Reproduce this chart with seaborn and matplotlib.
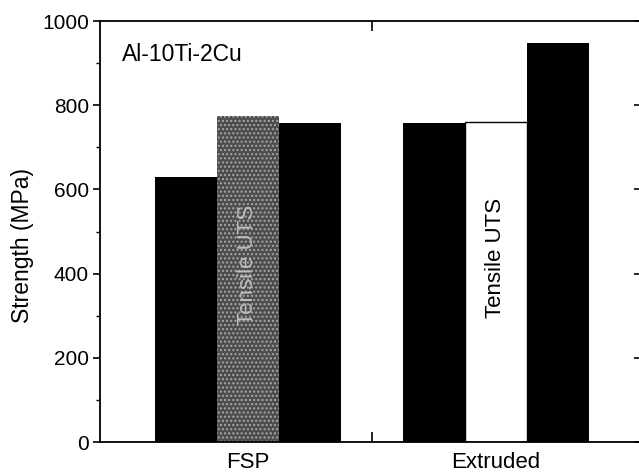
import pandas as pd
import numpy as np
import matplotlib
matplotlib.use("Agg")
import matplotlib.pyplot as plt
import seaborn as sns

# data
processes = ["FSP", "Extruded"]
tests = ["Tensile YS", "Tensile UTS", "Compressive YS"]
fsp_vals = [630, 775, 757]
ext_vals = [757, 760, 947]

df = pd.DataFrame({
    "process": np.repeat(processes, len(tests)),
    "test": tests * len(processes),
    "strength": fsp_vals + ext_vals,
})

sns.set_style("ticks")
plt.rcParams["font.family"] = ["Liberation Sans", "DejaVu Sans"]
plt.rcParams["text.color"] = "black"
plt.rcParams["axes.labelcolor"] = "black"
plt.rcParams["xtick.color"] = "black"
plt.rcParams["ytick.color"] = "black"
plt.rcParams["axes.edgecolor"] = "black"

fig = plt.figure(figsize=(6.39, 4.73), dpi=100)
ax = fig.add_axes([0.1565, 0.0655, 0.8465, 0.89])

sns.barplot(data=df, x="process", y="strength", hue="test", order=processes,
            hue_order=tests, palette=["black"] * 3, width=0.75, dodge=True,
            saturation=1, linewidth=0, legend=False, ax=ax)

# middle bars: grey stippled for FSP, white for Extruded
uts = ax.containers[1]
uts[0].set_facecolor("#4d4d4d")
uts[0].set_edgecolor("#a8a8a8")
uts[0].set_hatch("....")
uts[0].set_linewidth(0)
uts[1].set_facecolor("white")
uts[1].set_edgecolor("black")
uts[1].set_linewidth(1.0)

ax.set_xlim(-0.597, 1.585)
ax.set_ylim(0, 1000)
ax.set_yticks(np.arange(0, 1001, 200))
ax.set_yticks(np.arange(100, 1000, 200), minor=True)
ax.set_xticks([0, 1])
ax.set_xticklabels(processes)
ax.set_xticks([0.5], minor=True)

for s in ax.spines.values():
    s.set_visible(True)
    s.set_linewidth(1.3)

ax.tick_params(axis="y", which="major", direction="out", length=5, width=1.2,
               labelsize=15, pad=3)
ax.tick_params(axis="y", which="minor", direction="out", length=3, width=1.0)
ax.tick_params(axis="x", which="major", length=0, labelsize=16, pad=7)
ax.tick_params(axis="x", which="minor", direction="in", length=7, width=1.2,
               top=True, bottom=True)

sec = ax.secondary_yaxis("right")
sec.set_yticks(np.arange(0, 1001, 200))
sec.tick_params(direction="in", length=5, width=1.2, labelright=False)

ax.set_xlabel("")
ax.set_ylabel("Strength (MPa)", fontsize=16.5)
ax.yaxis.label.set_va("center")
ax.yaxis.set_label_coords(-0.144, 0.466)

ax.text(-0.51, 920, "Al-10Ti-2Cu", fontsize=16.5, va="center", ha="left")
ax.text(0, 420, "Tensile UTS", rotation=90, fontsize=16, color="#bdbdbd",
        ha="center", va="center")
ax.text(1, 437, "Tensile UTS", rotation=90, fontsize=16, color="black",
        ha="center", va="center")

fig.savefig("out.png", dpi=100)
